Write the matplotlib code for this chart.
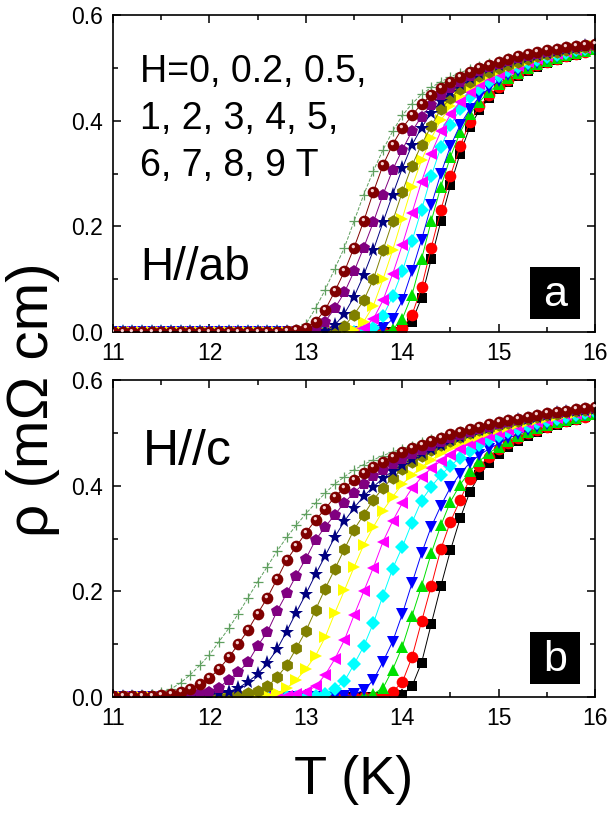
import matplotlib
matplotlib.use('Agg')
import matplotlib.pyplot as plt
import matplotlib.path as mpath
from matplotlib.patches import Rectangle
from matplotlib.ticker import MultipleLocator, FormatStrFormatter

plt.rcParams['font.family'] = ['Liberation Sans', 'DejaVu Sans']

# temperature grid (K)
T = [11.0, 11.1, 11.2, 11.3, 11.4, 11.5, 11.6, 11.7, 11.8, 11.9,
     12.0, 12.1, 12.2, 12.3, 12.4, 12.5, 12.6, 12.7, 12.8, 12.9,
     13.0, 13.1, 13.2, 13.3, 13.4, 13.5, 13.6, 13.7, 13.8, 13.9,
     14.0, 14.1, 14.2, 14.3, 14.4, 14.5, 14.6, 14.7, 14.8, 14.9,
     15.0, 15.1, 15.2, 15.3, 15.4, 15.5, 15.6, 15.7, 15.8, 15.9,
     16.0]

fields = ['0', '0.2', '0.5', '1', '2', '3', '4', '5', '6', '7', '8', '9']

# ---- panel a : H // ab  (rho in mOhm cm) ----
a_0 = [0, 0, 0, 0, 0, 0, 0, 0, 0, 0,
       0, 0, 0, 0, 0, 0, 0, 0, 0, 0,
       0, 0, 0, 0, 0, 0, 0, 0, 0, 0,
       0.004, 0.02, 0.065, 0.138, 0.21, 0.278, 0.338, 0.388, 0.42, 0.443,
       0.46, 0.474, 0.485, 0.494, 0.502, 0.509, 0.515, 0.52, 0.525, 0.53,
       0.534]
a_02 = [0, 0, 0, 0, 0, 0, 0, 0, 0, 0,
        0, 0, 0, 0, 0, 0, 0, 0, 0, 0,
        0, 0, 0, 0, 0, 0, 0, 0, 0, 0.001,
        0.008, 0.032, 0.085, 0.16, 0.231, 0.296, 0.352, 0.398, 0.427, 0.448,
        0.464, 0.477, 0.488, 0.497, 0.505, 0.511, 0.517, 0.522, 0.527, 0.531,
        0.535]
a_05 = [0, 0, 0, 0, 0, 0, 0, 0, 0, 0,
        0, 0, 0, 0, 0, 0, 0, 0, 0, 0,
        0, 0, 0, 0, 0, 0, 0, 0, 0.001, 0.005,
        0.025, 0.07, 0.138, 0.21, 0.275, 0.332, 0.378, 0.412, 0.436, 0.455,
        0.469, 0.481, 0.491, 0.5, 0.507, 0.513, 0.519, 0.524, 0.528, 0.532,
        0.536]
a_1 = [0, 0, 0, 0, 0, 0, 0, 0, 0, 0,
       0, 0, 0, 0, 0, 0, 0, 0, 0, 0,
       0, 0, 0, 0, 0, 0, 0, 0.002, 0.008, 0.025,
       0.06, 0.115, 0.175, 0.24, 0.3, 0.352, 0.392, 0.422, 0.445, 0.462,
       0.475, 0.486, 0.495, 0.503, 0.51, 0.516, 0.521, 0.526, 0.53, 0.534,
       0.537]
a_2 = [0, 0, 0, 0, 0, 0, 0, 0, 0, 0,
       0, 0, 0, 0, 0, 0, 0, 0, 0, 0,
       0, 0, 0, 0, 0, 0, 0.002, 0.008, 0.03, 0.068,
       0.115, 0.172, 0.232, 0.295, 0.35, 0.392, 0.422, 0.444, 0.461, 0.474,
       0.485, 0.494, 0.502, 0.509, 0.515, 0.52, 0.525, 0.529, 0.533, 0.536,
       0.539]
a_3 = [0, 0, 0, 0, 0, 0, 0, 0, 0, 0,
       0, 0, 0, 0, 0, 0, 0, 0, 0, 0,
       0, 0, 0, 0, 0, 0.002, 0.008, 0.025, 0.06, 0.11,
       0.165, 0.225, 0.285, 0.338, 0.38, 0.412, 0.436, 0.455, 0.469, 0.48,
       0.489, 0.497, 0.504, 0.511, 0.517, 0.522, 0.526, 0.53, 0.534, 0.537,
       0.54]
a_4 = [0, 0, 0, 0, 0, 0, 0, 0, 0, 0,
       0, 0, 0, 0, 0, 0, 0, 0, 0, 0,
       0, 0, 0, 0, 0.001, 0.004, 0.02, 0.05, 0.1, 0.155,
       0.215, 0.275, 0.325, 0.367, 0.401, 0.427, 0.447, 0.463, 0.476, 0.486,
       0.494, 0.501, 0.508, 0.514, 0.519, 0.524, 0.528, 0.532, 0.535, 0.538,
       0.541]
a_5 = [0, 0, 0, 0, 0, 0, 0, 0, 0, 0,
       0, 0, 0, 0, 0, 0, 0, 0, 0, 0,
       0, 0, 0.001, 0.003, 0.012, 0.033, 0.06, 0.1, 0.155, 0.21,
       0.265, 0.315, 0.355, 0.39, 0.422, 0.443, 0.46, 0.473, 0.484, 0.493,
       0.5, 0.506, 0.512, 0.517, 0.522, 0.526, 0.53, 0.534, 0.537, 0.54,
       0.542]
a_6 = [0, 0, 0, 0, 0, 0, 0, 0, 0, 0,
       0, 0, 0, 0, 0, 0, 0, 0, 0, 0,
       0, 0.001, 0.003, 0.013, 0.035, 0.067, 0.108, 0.155, 0.208, 0.26,
       0.31, 0.354, 0.387, 0.415, 0.437, 0.455, 0.469, 0.481, 0.491, 0.499,
       0.505, 0.511, 0.516, 0.521, 0.525, 0.529, 0.532, 0.535, 0.538, 0.541,
       0.543]
a_7 = [0, 0, 0, 0, 0, 0, 0, 0, 0, 0,
       0, 0, 0, 0, 0, 0, 0, 0, 0, 0.001,
       0.002, 0.006, 0.02, 0.045, 0.075, 0.115, 0.16, 0.208, 0.26, 0.307,
       0.345, 0.38, 0.408, 0.43, 0.448, 0.462, 0.474, 0.485, 0.494, 0.501,
       0.508, 0.513, 0.518, 0.523, 0.527, 0.531, 0.534, 0.537, 0.539, 0.542,
       0.544]
a_8 = [0, 0, 0, 0, 0, 0, 0, 0, 0, 0,
       0, 0, 0, 0, 0, 0, 0, 0.001, 0.002, 0.004,
       0.008, 0.02, 0.042, 0.077, 0.115, 0.16, 0.21, 0.265, 0.316, 0.355,
       0.386, 0.41, 0.432, 0.448, 0.462, 0.473, 0.483, 0.492, 0.499, 0.506,
       0.512, 0.517, 0.522, 0.526, 0.53, 0.533, 0.536, 0.539, 0.541, 0.543,
       0.545]
a_9 = [0, 0, 0, 0, 0, 0, 0, 0, 0, 0,
       0, 0, 0, 0, 0, 0, 0, 0.001, 0.002, 0.006,
       0.015, 0.045, 0.08, 0.12, 0.16, 0.21, 0.26, 0.305, 0.345, 0.38,
       0.41, 0.432, 0.45, 0.463, 0.474, 0.483, 0.491, 0.498, 0.504, 0.509,
       0.514, 0.518, 0.522, 0.526, 0.529, 0.532, 0.535, 0.538, 0.54, 0.542,
       0.544]

# ---- panel b : H // c ----
b_0 = list(a_0)  # zero field curve is the same measurement
b_02 = [0, 0, 0, 0, 0, 0, 0, 0, 0, 0,
        0, 0, 0, 0, 0, 0, 0, 0, 0, 0,
        0, 0, 0, 0, 0, 0, 0, 0, 0.002, 0.01,
        0.028, 0.075, 0.143, 0.21, 0.28, 0.332, 0.373, 0.413, 0.437, 0.455,
        0.469, 0.481, 0.491, 0.499, 0.506, 0.512, 0.518, 0.523, 0.527, 0.531,
        0.535]
b_05 = [0, 0, 0, 0, 0, 0, 0, 0, 0, 0,
        0, 0, 0, 0, 0, 0, 0, 0, 0, 0,
        0, 0, 0, 0, 0, 0, 0.002, 0.006, 0.017, 0.052,
        0.095, 0.153, 0.21, 0.272, 0.325, 0.37, 0.402, 0.427, 0.447, 0.462,
        0.474, 0.485, 0.494, 0.502, 0.509, 0.515, 0.52, 0.525, 0.529, 0.533,
        0.536]
b_1 = [0, 0, 0, 0, 0, 0, 0, 0, 0, 0,
       0, 0, 0, 0, 0, 0, 0, 0, 0, 0,
       0, 0, 0, 0, 0.002, 0.005, 0.013, 0.032, 0.067, 0.105,
       0.157, 0.215, 0.272, 0.322, 0.362, 0.397, 0.423, 0.443, 0.458, 0.47,
       0.48, 0.49, 0.498, 0.505, 0.512, 0.517, 0.522, 0.526, 0.53, 0.534,
       0.537]
b_2 = [0, 0, 0, 0, 0, 0, 0, 0, 0, 0,
       0, 0, 0, 0, 0, 0, 0, 0, 0, 0,
       0, 0.002, 0.006, 0.015, 0.03, 0.062, 0.096, 0.14, 0.192, 0.243,
       0.284, 0.33, 0.372, 0.398, 0.42, 0.438, 0.453, 0.466, 0.477, 0.486,
       0.494, 0.501, 0.507, 0.513, 0.518, 0.523, 0.527, 0.531, 0.534, 0.537,
       0.54]
b_3 = [0, 0, 0, 0, 0, 0, 0, 0, 0, 0,
       0, 0, 0, 0, 0, 0, 0, 0, 0.002, 0.005,
       0.01, 0.02, 0.042, 0.072, 0.108, 0.155, 0.2, 0.245, 0.294, 0.333,
       0.367, 0.395, 0.416, 0.433, 0.447, 0.459, 0.47, 0.479, 0.487, 0.494,
       0.5, 0.506, 0.511, 0.516, 0.521, 0.525, 0.529, 0.533, 0.536, 0.539,
       0.541]
b_4 = [0, 0, 0, 0, 0, 0, 0, 0, 0, 0,
       0, 0, 0, 0, 0, 0.002, 0.004, 0.007, 0.017, 0.032,
       0.053, 0.078, 0.113, 0.159, 0.202, 0.246, 0.288, 0.322, 0.353, 0.379,
       0.403, 0.42, 0.436, 0.449, 0.461, 0.471, 0.48, 0.488, 0.495, 0.501,
       0.507, 0.512, 0.517, 0.521, 0.525, 0.529, 0.532, 0.535, 0.538, 0.541,
       0.543]
b_5 = [0, 0, 0, 0, 0, 0, 0, 0, 0, 0,
       0, 0, 0.002, 0.004, 0.007, 0.012, 0.02, 0.037, 0.06, 0.092,
       0.125, 0.165, 0.205, 0.242, 0.28, 0.317, 0.345, 0.373, 0.396, 0.415,
       0.431, 0.445, 0.457, 0.467, 0.477, 0.485, 0.492, 0.499, 0.505, 0.51,
       0.515, 0.519, 0.523, 0.527, 0.53, 0.533, 0.536, 0.539, 0.541, 0.543,
       0.545]
b_6 = [0, 0, 0, 0, 0, 0, 0, 0, 0, 0.002,
       0.004, 0.007, 0.01, 0.017, 0.029, 0.043, 0.064, 0.09, 0.124, 0.16,
       0.195, 0.232, 0.267, 0.303, 0.333, 0.358, 0.38, 0.398, 0.414, 0.428,
       0.44, 0.451, 0.461, 0.47, 0.478, 0.486, 0.493, 0.499, 0.505, 0.51,
       0.516, 0.52, 0.524, 0.527, 0.531, 0.534, 0.537, 0.539, 0.542, 0.544,
       0.546]
b_7 = [0, 0, 0, 0, 0, 0, 0.002, 0.003, 0.005, 0.007,
       0.01, 0.018, 0.033, 0.047, 0.066, 0.097, 0.123, 0.162, 0.196, 0.23,
       0.262, 0.297, 0.322, 0.345, 0.368, 0.387, 0.404, 0.418, 0.43, 0.441,
       0.451, 0.46, 0.468, 0.476, 0.483, 0.49, 0.496, 0.502, 0.507, 0.512,
       0.517, 0.521, 0.525, 0.528, 0.532, 0.535, 0.538, 0.54, 0.543, 0.545,
       0.547]
b_8 = [0.001, 0.001, 0.001, 0.001, 0.002, 0.004, 0.006, 0.009, 0.015, 0.024,
       0.036, 0.053, 0.075, 0.1, 0.127, 0.158, 0.188, 0.223, 0.259, 0.285,
       0.311, 0.335, 0.356, 0.379, 0.396, 0.411, 0.424, 0.435, 0.445, 0.455,
       0.463, 0.471, 0.478, 0.485, 0.491, 0.497, 0.502, 0.507, 0.512, 0.516,
       0.52, 0.524, 0.527, 0.531, 0.534, 0.537, 0.54, 0.542, 0.545, 0.547,
       0.549]
b_9 = [0.001, 0.002, 0.003, 0.004, 0.006, 0.009, 0.015, 0.027, 0.042, 0.06,
       0.08, 0.105, 0.13, 0.158, 0.188, 0.218, 0.247, 0.276, 0.302, 0.325,
       0.347, 0.367, 0.386, 0.403, 0.417, 0.43, 0.44, 0.449, 0.457, 0.464,
       0.47, 0.476, 0.482, 0.488, 0.493, 0.498, 0.503, 0.507, 0.511, 0.515,
       0.518, 0.522, 0.526, 0.529, 0.532, 0.535, 0.538, 0.541, 0.543, 0.545,
       0.547]

panel_a = [a_0, a_02, a_05, a_1, a_2, a_3, a_4, a_5, a_6, a_7, a_8, a_9]
panel_b = [b_0, b_02, b_05, b_1, b_2, b_3, b_4, b_5, b_6, b_7, b_8, b_9]

markers = ['s', 'o', '^', 'v', 'D', '<', '>', 'h', '*', 'p', 'o', '+']
colors = ['black', '#ff0000', '#00e000', '#0000ff', '#00ffff', '#ff00ff',
          '#ffff00', '#808000', '#000080', '#800080', '#800000', '#5f9f5f']
msizes = [6.8, 8.4, 8.6, 8.6, 7.5, 8.6, 8.6, 9.0, 11.0, 9.2, 8.4, 7.5]

# small white highlight drawn on the maroon "spheres"
hl_path = mpath.Path.circle(center=(-0.2, 0.32), radius=0.28)
hl_scale = 0.60


def draw_panel(ax, curves):
    order = list(range(10)) + [11, 10]   # 9 T before 8 T, so spheres sit on top
    for k in order:
        y = curves[k]
        if markers[k] == '+':
            ax.plot(T, y, ls='--', lw=0.7, color=colors[k], marker='+',
                    ms=msizes[k], mew=0.9, zorder=2)
        else:
            ax.plot(T, y, ls='-', lw=0.7, color=colors[k], marker=markers[k],
                    ms=msizes[k], mew=0, zorder=2)
    ax.plot(T, curves[10], ls='none', marker=hl_path, color='#f4d2d2',
            ms=msizes[10] * hl_scale, mew=0, zorder=3)

    ax.set_xlim(11, 16)
    ax.set_ylim(0, 0.6)
    ax.xaxis.set_major_locator(MultipleLocator(1))
    ax.xaxis.set_minor_locator(MultipleLocator(0.5))
    ax.yaxis.set_major_locator(MultipleLocator(0.2))
    ax.yaxis.set_minor_locator(MultipleLocator(0.1))
    ax.yaxis.set_major_formatter(FormatStrFormatter('%.1f'))
    ax.tick_params(which='both', direction='in', top=True, right=True,
                   width=1.1, labelsize=16.5, pad=7)
    ax.tick_params(which='major', length=6)
    ax.tick_params(which='minor', length=3.5)
    for s in ax.spines.values():
        s.set_linewidth(1.2)


def box_label(ax, letter):
    ax.add_patch(Rectangle((0.865, 0.042), 0.104, 0.162, transform=ax.transAxes,
                           facecolor='black', edgecolor='none', zorder=5))
    ax.text(0.917, 0.118, letter, transform=ax.transAxes, color='white',
            fontsize=31, ha='center', va='center', zorder=6)


fig = plt.figure(figsize=(6.11, 8.14), dpi=100)
ax_a = fig.add_axes([0.185, 0.592, 0.789, 0.3895])
ax_b = fig.add_axes([0.185, 0.1437, 0.789, 0.3894])

draw_panel(ax_a, panel_a)
draw_panel(ax_b, panel_b)

ax_a.text(0.056, 0.878, 'H=0, 0.2, 0.5,\n1, 2, 3, 4, 5,\n6, 7, 8, 9 T',
          transform=ax_a.transAxes, fontsize=27, ha='left', va='top',
          linespacing=1.4)
ax_a.text(0.056, 0.164, 'H//ab', transform=ax_a.transAxes, fontsize=33,
          ha='left', va='baseline')
ax_b.text(0.062, 0.732, 'H//c', transform=ax_b.transAxes, fontsize=36,
          ha='left', va='baseline')
box_label(ax_a, 'a')
box_label(ax_b, 'b')

fig.text(0.054, 0.509, 'ρ (mΩ cm)', rotation=90, fontsize=42,
         ha='center', va='center')
fig.text(0.579, 0.042, 'T (K)', fontsize=39, ha='center', va='center')

fig.savefig('out.png', dpi=100)
